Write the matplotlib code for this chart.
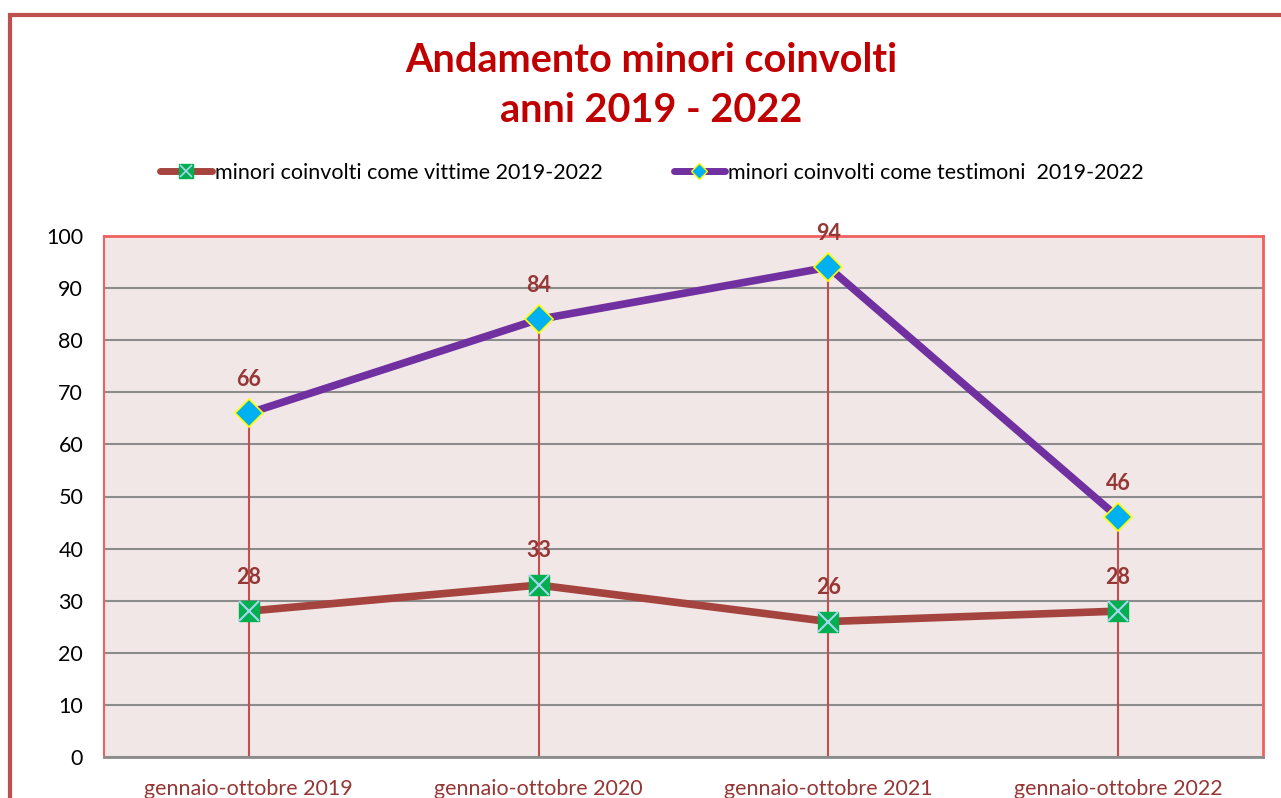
import matplotlib.pyplot as plt
from matplotlib.lines import Line2D
from matplotlib.patches import Rectangle

categories = ['gennaio-ottobre 2019', 'gennaio-ottobre 2020',
              'gennaio-ottobre 2021', 'gennaio-ottobre 2022']
vittime = [28, 33, 26, 28]
testimoni = [66, 84, 94, 46]
label_vittime = 'minori coinvolti come vittime 2019-2022'
label_testimoni = 'minori coinvolti come testimoni  2019-2022'

plt.rcParams['font.family'] = ['Lato', 'DejaVu Sans']

fig = plt.figure(figsize=(12.81, 7.98), dpi=100)
fig.patch.set_facecolor('white')

# cornice del grafico (tagliata a destra e in basso)
fig.patches.append(Rectangle((10 / 1281, -0.1), 1.2, 1 - 15 / 798 + 0.1,
                             transform=fig.transFigure, fill=False,
                             edgecolor='#C0504D', linewidth=3, zorder=0))

ax = fig.add_axes([104 / 1281, 1 - 757 / 798, (1263 - 104) / 1281, (757 - 236) / 798])
ax.set_facecolor('#F2E7E7')

x = [i + 0.5 for i in range(len(categories))]

ax.set_xlim(0, 4)
ax.set_ylim(0, 100)
ax.set_yticks(range(0, 101, 10))
ax.yaxis.grid(True, color='#8C8C8C', linewidth=1.5)
ax.set_axisbelow(True)

# linee di proiezione
for xi, a, b in zip(x, vittime, testimoni):
    ax.plot([xi, xi], [0, max(a, b)], color='#C0504D', linewidth=1.5, zorder=1)

ax.plot(x, vittime, color='#A5443F', linewidth=5.5, solid_capstyle='round', zorder=3)
ax.plot(x, vittime, linestyle='none', marker='s', markersize=15,
        markerfacecolor='#00B050', markeredgecolor='#00B050', zorder=4)
ax.plot(x, vittime, linestyle='none', marker='x', markersize=14,
        markeredgecolor='#A9D4F0', markeredgewidth=1.5, zorder=5)

ax.plot(x, testimoni, color='#7030A0', linewidth=5.5, solid_capstyle='round', zorder=3)
ax.plot(x, testimoni, linestyle='none', marker='D', markersize=14,
        markerfacecolor='#00B0F0', markeredgecolor='#FFFF00', markeredgewidth=1.2, zorder=4)

for xi, v in zip(x, vittime):
    ax.annotate(str(v), (xi, v), xytext=(0, 17), textcoords='offset points',
                ha='center', va='bottom', fontsize=15.5, fontweight='bold', color='#953735')
for xi, v in zip(x, testimoni):
    ax.annotate(str(v), (xi, v), xytext=(0, 17), textcoords='offset points',
                ha='center', va='bottom', fontsize=15.5, fontweight='bold', color='#953735')

ax.set_xticks(x)
ax.set_xticklabels(categories, fontsize=15.5, color='#953735')
ax.tick_params(axis='x', length=0, pad=16)
ax.tick_params(axis='y', length=0, labelsize=15.5, pad=15)

for side in ['top', 'right']:
    ax.spines[side].set_color('#F06060')
    ax.spines[side].set_linewidth(2)
ax.spines['left'].set_color('#F06060')
ax.spines['left'].set_linewidth(1.5)
ax.spines['bottom'].set_color('#8C8C8C')
ax.spines['bottom'].set_linewidth(2)

fig.text(651 / 1281, 1 - 60 / 798, 'Andamento minori coinvolti', ha='center', va='center',
         fontsize=28.5, fontweight='bold', color='#C00000')
fig.text(651 / 1281, 1 - 110 / 798, 'anni 2019 - 2022', ha='center', va='center',
         fontsize=28.5, fontweight='bold', color='#C00000')

h1 = (Line2D([], [], color='#A5443F', linewidth=5, solid_capstyle='round',
             marker='s', markersize=10, markerfacecolor='#00B050', markeredgecolor='#00B050'),
      Line2D([], [], linestyle='none', marker='x', markersize=9,
             markeredgecolor='#A9D4F0', markeredgewidth=1.2))
h2 = (Line2D([], [], color='#7030A0', linewidth=5, solid_capstyle='round',
             marker='D', markersize=8, markerfacecolor='#00B0F0', markeredgecolor='#FFFF00'),)
fig.legend([h1, h2], [label_vittime, label_testimoni], loc='center',
           bbox_to_anchor=(652 / 1281, 1 - 173 / 798), ncol=2, frameon=False,
           fontsize=15.5, handlelength=2.4, handletextpad=0.15, columnspacing=3.3,
           numpoints=1)

fig.savefig('out.png', dpi=100)
